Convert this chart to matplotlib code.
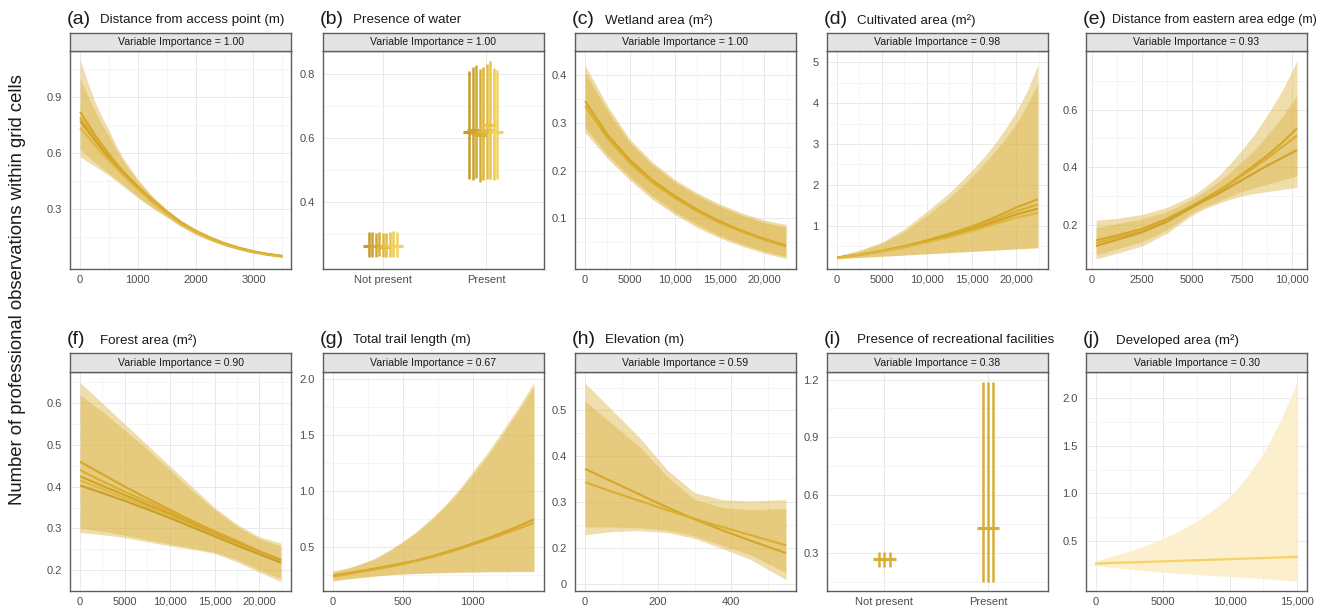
import matplotlib.pyplot as plt

plt.rcParams['font.family'] = ['Liberation Sans', 'DejaVu Sans']

# ─── Data: model-averaged partial effects ─────────────────────────────────────
# (a) Distance from access point (m)
A_X = [0, 125, 250, 375, 500, 625, 750, 1000, 1250, 1500, 1750, 2000, 2250, 2500, 2750, 3000, 3250, 3500]
A_FIT = [
    [0.82, 0.76, 0.70, 0.645, 0.595, 0.545, 0.50, 0.42, 0.35, 0.285, 0.228, 0.182, 0.145, 0.115, 0.092, 0.073, 0.059, 0.049],
    [0.79, 0.735, 0.68, 0.63, 0.585, 0.538, 0.495, 0.415, 0.345, 0.28, 0.225, 0.18, 0.143, 0.113, 0.09, 0.072, 0.058, 0.048],
    [0.77, 0.72, 0.67, 0.62, 0.575, 0.53, 0.49, 0.41, 0.34, 0.277, 0.222, 0.178, 0.142, 0.112, 0.089, 0.071, 0.057, 0.047],
    [0.735, 0.69, 0.645, 0.60, 0.56, 0.52, 0.48, 0.405, 0.337, 0.275, 0.22, 0.176, 0.141, 0.111, 0.088, 0.07, 0.056, 0.046],
]
A_LO = [
    [0.58, 0.555, 0.53, 0.505, 0.48, 0.45, 0.42, 0.36, 0.305, 0.255, 0.205, 0.163, 0.13, 0.103, 0.081, 0.063, 0.05, 0.040],
    [0.62, 0.585, 0.55, 0.52, 0.49, 0.46, 0.43, 0.365, 0.31, 0.26, 0.208, 0.166, 0.132, 0.105, 0.083, 0.065, 0.052, 0.041],
]
A_HI = [
    [1.10, 0.985, 0.88, 0.795, 0.72, 0.64, 0.57, 0.46, 0.37, 0.30, 0.24, 0.195, 0.158, 0.127, 0.102, 0.082, 0.068, 0.057],
    [1.00, 0.91, 0.83, 0.755, 0.69, 0.62, 0.555, 0.45, 0.365, 0.295, 0.235, 0.19, 0.154, 0.123, 0.099, 0.079, 0.065, 0.054],
]

# (b) Presence of water
B_CATS = ["Not present", "Present"]
B_MEAN_NP = [0.262, 0.263, 0.261, 0.262, 0.260, 0.262, 0.263, 0.262, 0.263]
B_LO_NP = [0.229, 0.228, 0.229, 0.230, 0.228, 0.229, 0.228, 0.227, 0.228]
B_HI_NP = [0.305, 0.306, 0.304, 0.305, 0.303, 0.304, 0.307, 0.309, 0.306]
B_MEAN_P = [0.620, 0.625, 0.615, 0.610, 0.620, 0.625, 0.640, 0.620, 0.620]
B_LO_P = [0.470, 0.467, 0.475, 0.462, 0.468, 0.472, 0.470, 0.468, 0.470]
B_HI_P = [0.810, 0.821, 0.828, 0.816, 0.821, 0.831, 0.842, 0.818, 0.813]

# (c) Wetland area (m²)
C_X = [0, 2500, 5000, 7500, 10000, 12500, 15000, 17500, 20000, 22400]
C_FIT = [
    [0.345, 0.275, 0.222, 0.18, 0.147, 0.118, 0.094, 0.074, 0.057, 0.043],
    [0.335, 0.268, 0.216, 0.175, 0.143, 0.115, 0.091, 0.072, 0.055, 0.041],
]
C_LO = [
    [0.28, 0.225, 0.18, 0.14, 0.108, 0.081, 0.059, 0.042, 0.027, 0.016],
    [0.29, 0.233, 0.187, 0.147, 0.114, 0.087, 0.064, 0.046, 0.031, 0.02],
]
C_HI = [
    [0.42, 0.335, 0.265, 0.218, 0.181, 0.153, 0.13, 0.111, 0.096, 0.087],
    [0.405, 0.325, 0.258, 0.212, 0.176, 0.148, 0.125, 0.106, 0.091, 0.082],
]

# (d) Cultivated area (m²)
D_X = [0, 2500, 5000, 7500, 10000, 12500, 15000, 16250, 17500, 18750, 20000, 21250, 22400]
D_FIT = [
    [0.22, 0.29, 0.385, 0.50, 0.64, 0.80, 0.98, 1.085, 1.20, 1.32, 1.45, 1.55, 1.65],
    [0.22, 0.29, 0.38, 0.49, 0.62, 0.77, 0.94, 1.035, 1.14, 1.245, 1.36, 1.44, 1.52],
    [0.22, 0.285, 0.375, 0.48, 0.61, 0.75, 0.91, 0.995, 1.09, 1.18, 1.28, 1.35, 1.42],
    [0.22, 0.285, 0.37, 0.47, 0.59, 0.72, 0.87, 0.95, 1.04, 1.115, 1.20, 1.26, 1.32],
]
D_LO = [
    [0.19, 0.22, 0.25, 0.28, 0.31, 0.34, 0.37, 0.385, 0.40, 0.415, 0.43, 0.445, 0.46],
    [0.195, 0.225, 0.255, 0.285, 0.315, 0.345, 0.375, 0.39, 0.405, 0.42, 0.435, 0.45, 0.465],
]
D_HI = [
    [0.26, 0.40, 0.60, 0.92, 1.35, 1.80, 2.35, 2.65, 2.98, 3.37, 3.80, 4.33, 4.95],
    [0.25, 0.38, 0.57, 0.86, 1.25, 1.68, 2.20, 2.48, 2.80, 3.13, 3.50, 3.98, 4.50],
]

# (e) Distance from eastern area edge (m)
E_X = [200, 1250, 2500, 3750, 5000, 5625, 6250, 6875, 7500, 8125, 8750, 9500, 10250]
E_FIT = [
    [0.145, 0.162, 0.185, 0.22, 0.265, 0.29, 0.315, 0.343, 0.375, 0.407, 0.44, 0.485, 0.535],
    [0.135, 0.155, 0.177, 0.212, 0.26, 0.285, 0.31, 0.34, 0.37, 0.40, 0.43, 0.47, 0.51],
    [0.125, 0.147, 0.173, 0.21, 0.26, 0.283, 0.305, 0.33, 0.355, 0.38, 0.405, 0.432, 0.46],
]
E_LO = [
    [0.08, 0.10, 0.125, 0.17, 0.232, 0.255, 0.272, 0.287, 0.30, 0.308, 0.315, 0.322, 0.33],
    [0.095, 0.115, 0.14, 0.182, 0.24, 0.263, 0.28, 0.298, 0.315, 0.328, 0.34, 0.355, 0.37],
]
E_HI = [
    [0.215, 0.222, 0.235, 0.26, 0.30, 0.33, 0.365, 0.41, 0.46, 0.515, 0.58, 0.665, 0.77],
    [0.19, 0.203, 0.22, 0.245, 0.288, 0.315, 0.345, 0.38, 0.42, 0.46, 0.51, 0.575, 0.65],
]

# (f) Forest area (m²)
F_X = [0, 2500, 5000, 7500, 10000, 12500, 15000, 17500, 20000, 22400]
F_FIT = [
    [0.46, 0.43, 0.40, 0.372, 0.345, 0.318, 0.293, 0.27, 0.245, 0.225],
    [0.44, 0.413, 0.388, 0.364, 0.34, 0.315, 0.29, 0.268, 0.245, 0.225],
    [0.425, 0.402, 0.38, 0.357, 0.335, 0.311, 0.287, 0.265, 0.243, 0.223],
    [0.415, 0.394, 0.373, 0.352, 0.33, 0.307, 0.284, 0.262, 0.24, 0.22],
    [0.403, 0.385, 0.366, 0.346, 0.325, 0.303, 0.281, 0.259, 0.238, 0.218],
]
F_LO = [
    [0.29, 0.285, 0.278, 0.268, 0.258, 0.25, 0.24, 0.22, 0.195, 0.172],
    [0.30, 0.293, 0.284, 0.273, 0.263, 0.253, 0.243, 0.225, 0.20, 0.18],
]
F_HI = [
    [0.65, 0.60, 0.55, 0.50, 0.45, 0.40, 0.35, 0.31, 0.28, 0.265],
    [0.62, 0.58, 0.535, 0.49, 0.44, 0.39, 0.345, 0.305, 0.275, 0.258],
]

# (g) Total trail length (m)
G_X = [0, 100, 200, 300, 400, 500, 600, 700, 800, 900, 1000, 1100, 1200, 1320, 1440]
G_FIT = [
    [0.245, 0.265, 0.285, 0.307, 0.33, 0.354, 0.38, 0.413, 0.45, 0.488, 0.53, 0.573, 0.62, 0.68, 0.745],
    [0.235, 0.256, 0.278, 0.299, 0.322, 0.347, 0.375, 0.406, 0.44, 0.478, 0.52, 0.561, 0.605, 0.658, 0.715],
]
G_LO = [
    [0.195, 0.212, 0.225, 0.238, 0.25, 0.257, 0.262, 0.266, 0.27, 0.273, 0.275, 0.277, 0.278, 0.279, 0.28],
    [0.20, 0.216, 0.229, 0.241, 0.252, 0.259, 0.264, 0.268, 0.272, 0.275, 0.277, 0.279, 0.28, 0.281, 0.282],
]
G_HI = [
    [0.285, 0.31, 0.35, 0.40, 0.47, 0.55, 0.64, 0.75, 0.87, 1.01, 1.17, 1.33, 1.51, 1.73, 1.97],
    [0.28, 0.305, 0.345, 0.39, 0.46, 0.54, 0.63, 0.735, 0.855, 0.99, 1.145, 1.30, 1.48, 1.70, 1.93],
]

# (h) Elevation (m)
H_X = [0, 75, 150, 225, 300, 375, 450, 550]
H_FIT = [
    [0.372, 0.344, 0.316, 0.288, 0.262, 0.238, 0.216, 0.188],
    [0.343, 0.322, 0.302, 0.282, 0.263, 0.245, 0.228, 0.205],
]
H_LO = [
    [0.228, 0.235, 0.237, 0.233, 0.22, 0.198, 0.175, 0.13],
    [0.245, 0.245, 0.243, 0.238, 0.225, 0.205, 0.185, 0.145],
]
H_HI = [
    [0.56, 0.50, 0.44, 0.37, 0.32, 0.305, 0.302, 0.305],
    [0.52, 0.47, 0.42, 0.355, 0.305, 0.288, 0.283, 0.285],
]

# (i) Presence of recreational facilities
I_CATS = ["Not present", "Present"]
I_MEAN_NP = [0.269, 0.269, 0.269]
I_LO_NP = [0.231, 0.231, 0.231]
I_HI_NP = [0.308, 0.308, 0.308]
I_MEAN_P = [0.43, 0.43, 0.43]
I_LO_P = [0.153, 0.153, 0.153]
I_HI_P = [1.188, 1.188, 1.188]

# (j) Developed area (m²)
J_X = [0, 1250, 2500, 3750, 5000, 6250, 7500, 8750, 10000, 11250, 12500, 13750, 15000]
J_FIT = [0.27, 0.276, 0.282, 0.287, 0.293, 0.299, 0.305, 0.31, 0.316, 0.322, 0.328, 0.334, 0.34]
J_LO = [0.25, 0.23, 0.21, 0.195, 0.18, 0.167, 0.155, 0.145, 0.135, 0.125, 0.112, 0.10, 0.088]
J_HI = [0.30, 0.35, 0.40, 0.46, 0.53, 0.61, 0.71, 0.83, 0.97, 1.17, 1.42, 1.75, 2.16]

# ─── Layout (pixels) ──────────────────────────────────────────────────────────
W, H = 1333, 606
COL_LEFT = [70, 323, 575, 827, 1086]
PANEL_W = 221
STRIP_TOP = [33, 353]
PLOT_TOP = [51, 372]
PLOT_BOTTOM = [269, 591]

GOLD = "#DDB445"
LINE_COLS = ["#D4A62A", "#DAAE30", "#CFA22C", "#E0B73A", "#C99E2E"]
BORDER = "#5E5E5E"
TICK_COL = "#4D4D4D"

fig = plt.figure(figsize=(W / 100, H / 100), dpi=100)


def px_axes(left, top, width, height):
    return fig.add_axes([left / W, 1 - (top + height) / H, width / W, height / H])


def make_panel(col, row, tag, title, importance, xlim, ylim,
               xticks, xlabels, yticks, ylabels, xminor=(), yminor=(),
               title_size=9.6, title_dx=30):
    left = COL_LEFT[col]
    top = PLOT_TOP[row]
    ax = px_axes(left, top, PANEL_W, PLOT_BOTTOM[row] - top)

    # strip with the importance value
    st = px_axes(left, STRIP_TOP[row], PANEL_W, top - STRIP_TOP[row])
    st.set_facecolor("#E4E4E4")
    st.set_xticks([])
    st.set_yticks([])
    for s in st.spines.values():
        s.set_color(BORDER)
        s.set_linewidth(1.0)
    st.text(0.5, 0.5, f"Variable Importance = {importance:.2f}", ha="center", va="center",
            fontsize=7.6, color="#1A1A1A", transform=st.transAxes)

    # panel tag + title above the strip
    ty = 1 - (STRIP_TOP[row] - 14) / H
    fig.text((left - 3) / W, ty, tag, fontsize=14, ha="left", va="center", color="#1A1A1A")
    fig.text((left + title_dx) / W, ty - 0.002, title, fontsize=title_size,
             ha="left", va="center", color="#1A1A1A")

    ax.set_xlim(*xlim)
    ax.set_ylim(*ylim)
    ax.set_xticks(xticks)
    ax.set_xticklabels(xlabels)
    ax.set_yticks(yticks)
    ax.set_yticklabels(ylabels)
    ax.set_xticks(list(xminor), minor=True)
    ax.set_yticks(list(yminor), minor=True)
    ax.tick_params(which="both", length=0, labelsize=8, labelcolor=TICK_COL)
    ax.tick_params(axis="x", pad=4)
    ax.tick_params(axis="y", pad=6)
    ax.grid(True, which="major", color="#E9E9E9", linewidth=0.7)
    ax.grid(True, which="minor", color="#F4F4F4", linewidth=0.6)
    ax.set_axisbelow(True)
    for s in ax.spines.values():
        s.set_color(BORDER)
        s.set_linewidth(1.0)
    return ax


def draw_curves(ax, x, fits, los, his, band_alpha=0.45):
    for lo, hi in zip(los, his):
        ax.fill_between(x, lo, hi, color=GOLD, alpha=band_alpha, linewidth=0)
    for i, f in enumerate(fits):
        ax.plot(x, f, color=LINE_COLS[i % len(LINE_COLS)], linewidth=1.5,
                solid_capstyle="butt", solid_joinstyle="round")


def draw_bars(ax, means, los, his, center, width, colors):
    n = len(means)
    for k in range(n):
        xk = center - width / 2 + width * k / max(n - 1, 1)
        ax.vlines(xk, los[k], his[k], color=colors[k], linewidth=1.8)
        ax.plot([xk], [means[k]], marker="_", markersize=9, markeredgewidth=2.2,
                color=colors[k])


def comma(v):
    return f"{v:,}" if v >= 10000 else f"{v}"


# (a)
ax = make_panel(0, 0, "(a)", "Distance from access point (m)", 1.00,
                (-175, 3650), (-0.021, 1.146),
                [0, 1000, 2000, 3000], ["0", "1000", "2000", "3000"],
                [0.3, 0.6, 0.9], ["0.3", "0.6", "0.9"],
                [500, 1500, 2500, 3500], [0.15, 0.45, 0.75, 1.05])
draw_curves(ax, A_X, A_FIT, A_LO, A_HI)

# (b)
ax = make_panel(1, 0, "(b)", "Presence of water", 1.00,
                (0.423, 2.558), (0.19, 0.872),
                [1, 2], B_CATS,
                [0.4, 0.6, 0.8], ["0.4", "0.6", "0.8"],
                [], [0.3, 0.5, 0.7])
B_COLS = ["#C49A2C", "#CBA12F", "#D2A932", "#D8AF35", "#DDB53A",
          "#E3BC41", "#E9C449", "#EECB53", "#F3D25E"]
draw_bars(ax, B_MEAN_NP, B_LO_NP, B_HI_NP, 1, 0.27, B_COLS)
draw_bars(ax, B_MEAN_P, B_LO_P, B_HI_P, 2 - 0.03, 0.27, B_COLS)

# (c)
x_big = [0, 5000, 10000, 15000, 20000]
x_big_minor = [2500, 7500, 12500, 17500, 22500]
ax = make_panel(2, 0, "(c)", "Wetland area (m²)", 1.00,
                (-1120, 23520), (-0.006, 0.45),
                x_big, [comma(v) for v in x_big],
                [0.1, 0.2, 0.3, 0.4], ["0.1", "0.2", "0.3", "0.4"],
                x_big_minor, [0.05, 0.15, 0.25, 0.35])
draw_curves(ax, C_X, C_FIT, C_LO, C_HI, band_alpha=0.5)

# (d)
ax = make_panel(3, 0, "(d)", "Cultivated area (m²)", 0.98,
                (-1120, 23520), (-0.06, 5.28),
                x_big, [comma(v) for v in x_big],
                [1, 2, 3, 4, 5], ["1", "2", "3", "4", "5"],
                x_big_minor, [0.5, 1.5, 2.5, 3.5, 4.5])
draw_curves(ax, D_X, D_FIT, D_LO, D_HI)

# (e)
x_e = [0, 2500, 5000, 7500, 10000]
ax = make_panel(4, 0, "(e)", "Distance from eastern area edge (m)", 0.93,
                (-302, 10752), (0.045, 0.805),
                x_e, [comma(v) for v in x_e],
                [0.2, 0.4, 0.6], ["0.2", "0.4", "0.6"],
                [1250, 3750, 6250, 8750], [0.1, 0.3, 0.5, 0.7],
                title_size=9.0, title_dx=26)
draw_curves(ax, E_X, E_FIT, E_LO, E_HI)

# (f)
ax = make_panel(0, 1, "(f)", "Forest area (m²)", 0.90,
                (-1120, 23520), (0.150, 0.675),
                x_big, [comma(v) for v in x_big],
                [0.2, 0.3, 0.4, 0.5, 0.6], ["0.2", "0.3", "0.4", "0.5", "0.6"],
                x_big_minor, [0.25, 0.35, 0.45, 0.55, 0.65])
draw_curves(ax, F_X, F_FIT, F_LO, F_HI)

# (g)
ax = make_panel(1, 1, "(g)", "Total trail length (m)", 0.67,
                (-72, 1512), (0.106, 2.062),
                [0, 500, 1000], ["0", "500", "1000"],
                [0.5, 1.0, 1.5, 2.0], ["0.5", "1.0", "1.5", "2.0"],
                [250, 750, 1250], [0.25, 0.75, 1.25, 1.75])
draw_curves(ax, G_X, G_FIT, G_LO, G_HI)

# (h)
ax = make_panel(2, 1, "(h)", "Elevation (m)", 0.59,
                (-27.5, 577.5), (0.105, 0.584),
                [0, 200, 400], ["0", "200", "400"],
                [0.12, 0.2, 0.3, 0.4, 0.5], ["0", "0.2", "0.3", "0.4", "0.5"],
                [100, 300, 500], [0.25, 0.35, 0.45, 0.55])
draw_curves(ax, H_X, H_FIT, H_LO, H_HI)

# (i)
ax = make_panel(3, 1, "(i)", "Presence of recreational facilities", 0.38,
                (0.447, 2.579), (0.105, 1.239),
                [1, 2], I_CATS,
                [0.3, 0.6, 0.9, 1.2], ["0.3", "0.6", "0.9", "1.2"],
                [], [0.15, 0.45, 0.75, 1.05])
I_COLS = ["#D8AE36", "#D8AE36", "#D8AE36"]
draw_bars(ax, I_MEAN_NP, I_LO_NP, I_HI_NP, 1, 0.1, I_COLS)
draw_bars(ax, I_MEAN_P, I_LO_P, I_HI_P, 2, 0.1, I_COLS)

# (j)
x_j = [0, 5000, 10000, 15000]
ax = make_panel(4, 1, "(j)", "Developed area (m²)", 0.30,
                (-750, 15750), (-0.016, 2.266),
                x_j, [comma(v) for v in x_j],
                [0.5, 1.0, 1.5, 2.0], ["0.5", "1.0", "1.5", "2.0"],
                [2500, 7500, 12500], [0.25, 0.75, 1.25, 1.75])
ax.fill_between(J_X, J_LO, J_HI, color="#FBEFCD", linewidth=0)
ax.plot(J_X, J_FIT, color="#F6D264", linewidth=1.6)

fig.text(18 / W, 1 - 290 / H, "Number of professional observations within grid cells",
         rotation=90, ha="center", va="center", fontsize=13.3, color="#1A1A1A")

fig.savefig("out.png", dpi=100)
